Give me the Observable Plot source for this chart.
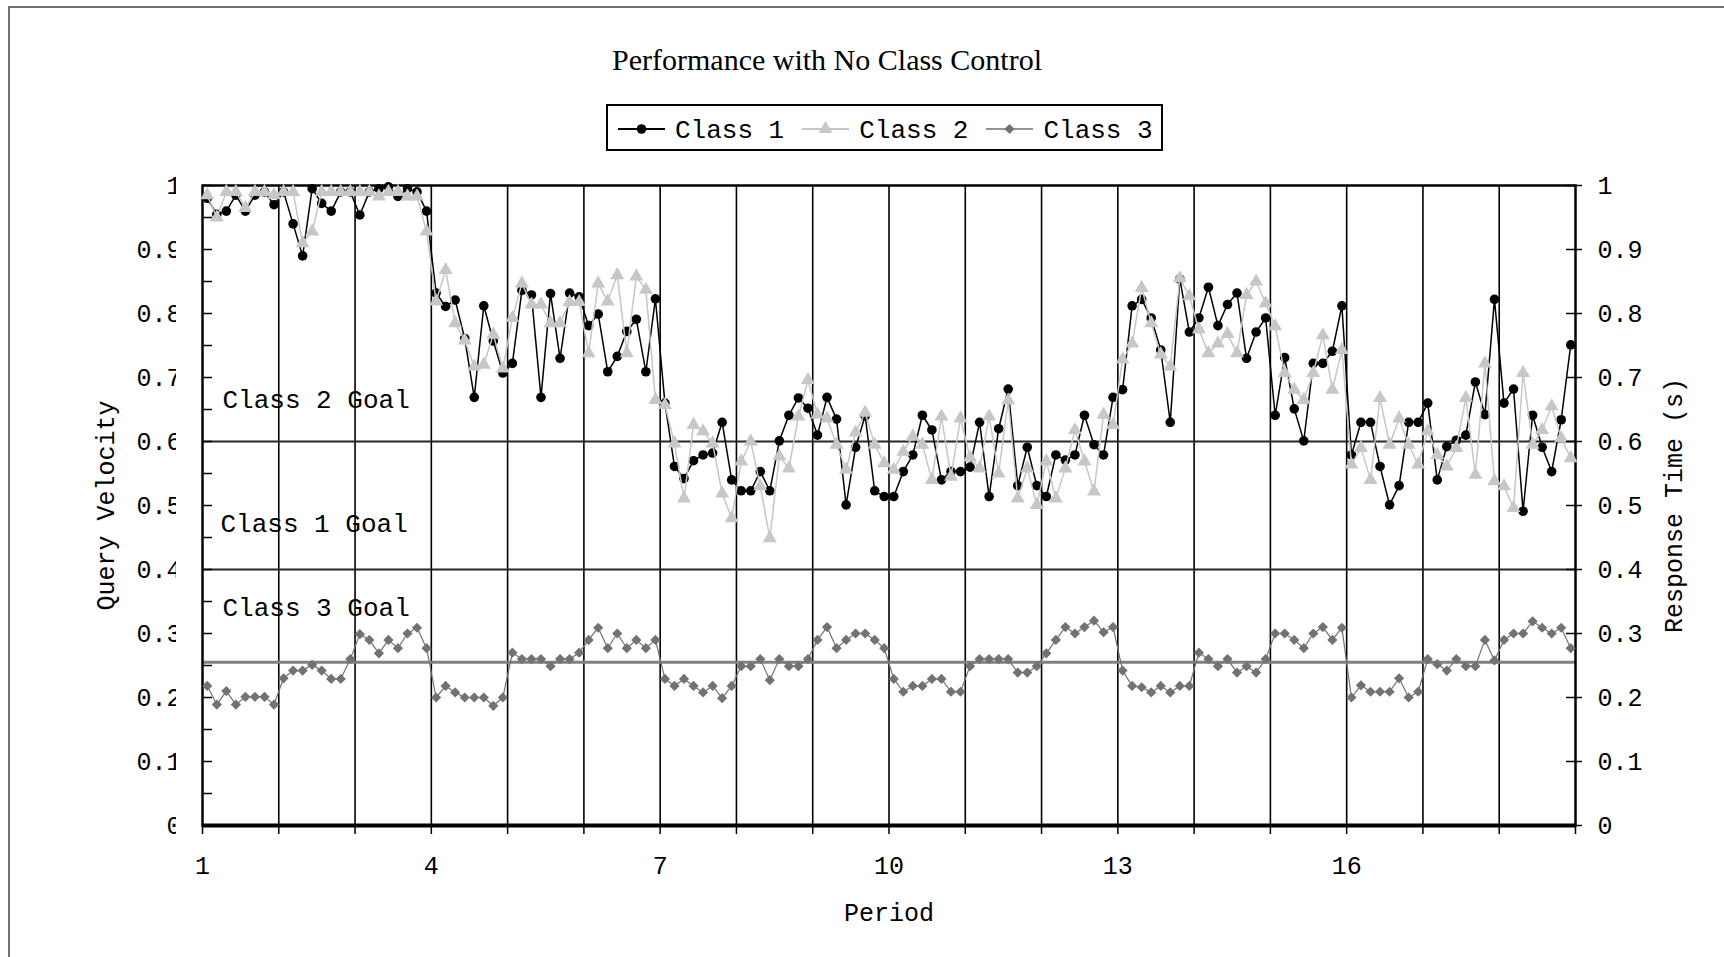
<!DOCTYPE html>
<html>
<head>
<meta charset="utf-8">
<script src="https://cdn.jsdelivr.net/npm/d3@7"></script>
<script src="https://cdn.jsdelivr.net/npm/@observablehq/plot@0.6"></script>
<style>
  body { margin: 0; background: #fff; }
  #page { position: relative; width: 1724px; height: 957px; overflow: hidden; background: #fff; }
  #border { position: absolute; left: 8px; top: 6px; width: 1800px; height: 1000px; border: 2px solid #707070; box-sizing: border-box; }
  #title { position: absolute; left: 0; top: 45px; width: 1654px; text-align: center; font: 30px/30px "Liberation Serif", serif; color: #000; }
  #legend { position: absolute; left: 606px; top: 104px; width: 557px; height: 47px; box-sizing: border-box; border: 2px solid #000; display: flex; align-items: center; padding-left: 10px; padding-top: 6px; font: 26px/26px "Liberation Mono", monospace; color: #000; background: #fff; white-space: nowrap; }
  #legend .item { display: flex; align-items: center; margin-right: 18px; flex: 0 0 auto; white-space: nowrap; }
  #legend svg { margin-right: 10px; flex: 0 0 auto; margin-top: -3px; }
  #chart { position: absolute; left: 0; top: 171px; }
</style>
</head>
<body>
<div id="page">
  <div id="border"></div>
  <div id="title"></div>
  <div id="legend"></div>
  <div id="chart"></div>
</div>
<script>
// Query velocity per class, 8 samples per period, periods 1..18
const classNames = ["Class 1", "Class 2", "Class 3"];

const class1 = [
  0.98, 0.955, 0.96, 0.985, 0.96, 0.985, 0.99, 0.97,
  0.99, 0.94, 0.89, 0.995, 0.972, 0.96, 0.99, 0.99,
  0.954, 0.99, 0.995, 0.998, 0.983, 0.995, 0.99, 0.96,
  0.832, 0.811, 0.821, 0.761, 0.669, 0.812, 0.757, 0.707,
  0.722, 0.836, 0.829, 0.669, 0.831, 0.730, 0.832, 0.826,
  0.781, 0.799, 0.709, 0.733, 0.772, 0.791, 0.709, 0.823,
  0.66, 0.561, 0.542, 0.570, 0.579, 0.582, 0.630, 0.540,
  0.523, 0.523, 0.553, 0.523, 0.601, 0.641, 0.668, 0.652,
  0.610, 0.669, 0.635, 0.501, 0.591, 0.640, 0.523, 0.514,
  0.514, 0.553, 0.579, 0.641, 0.618, 0.540, 0.553, 0.553,
  0.560, 0.630, 0.514, 0.620, 0.682, 0.531, 0.591, 0.531,
  0.514, 0.579, 0.571, 0.579, 0.641, 0.595, 0.579, 0.669,
  0.681, 0.812, 0.822, 0.793, 0.743, 0.630, 0.854, 0.771,
  0.793, 0.841, 0.781, 0.814, 0.832, 0.730, 0.771, 0.793,
  0.641, 0.731, 0.651, 0.601, 0.722, 0.722, 0.741, 0.812,
  0.579, 0.630, 0.630, 0.561, 0.501, 0.531, 0.630, 0.630,
  0.660, 0.540, 0.592, 0.602, 0.610, 0.693, 0.642, 0.822,
  0.660, 0.682, 0.491, 0.641, 0.591, 0.553, 0.634, 0.751
];

const class2 = [
  0.985, 0.95, 0.99, 0.99, 0.965, 0.99, 0.99, 0.985,
  0.99, 0.99, 0.91, 0.928, 0.99, 0.99, 0.99, 0.99,
  0.99, 0.99, 0.983, 0.99, 0.99, 0.983, 0.983, 0.928,
  0.819, 0.868, 0.785, 0.758, 0.717, 0.720, 0.767, 0.714,
  0.793, 0.847, 0.814, 0.814, 0.785, 0.785, 0.818, 0.818,
  0.738, 0.847, 0.819, 0.860, 0.738, 0.858, 0.837, 0.665,
  0.657, 0.597, 0.511, 0.626, 0.616, 0.597, 0.519, 0.480,
  0.569, 0.600, 0.530, 0.449, 0.577, 0.558, 0.639, 0.696,
  0.642, 0.636, 0.595, 0.556, 0.614, 0.645, 0.595, 0.566,
  0.556, 0.584, 0.608, 0.595, 0.540, 0.639, 0.545, 0.636,
  0.575, 0.558, 0.639, 0.550, 0.664, 0.511, 0.558, 0.501,
  0.569, 0.511, 0.558, 0.618, 0.569, 0.522, 0.642, 0.626,
  0.728, 0.753, 0.840, 0.785, 0.736, 0.717, 0.855, 0.827,
  0.775, 0.738, 0.753, 0.768, 0.738, 0.829, 0.850, 0.816,
  0.780, 0.707, 0.681, 0.665, 0.707, 0.766, 0.681, 0.743,
  0.564, 0.590, 0.540, 0.668, 0.595, 0.636, 0.595, 0.564,
  0.616, 0.579, 0.561, 0.590, 0.668, 0.548, 0.722, 0.538,
  0.530, 0.496, 0.707, 0.595, 0.618, 0.655, 0.605, 0.574
];

const class3 = [
  0.218, 0.189, 0.210, 0.189, 0.201, 0.201, 0.201, 0.189,
  0.230, 0.242, 0.242, 0.251, 0.242, 0.229, 0.229, 0.260,
  0.299, 0.290, 0.269, 0.290, 0.277, 0.300, 0.309, 0.277,
  0.200, 0.218, 0.208, 0.200, 0.200, 0.200, 0.187, 0.200,
  0.270, 0.260, 0.260, 0.260, 0.249, 0.260, 0.260, 0.270,
  0.290, 0.309, 0.277, 0.300, 0.277, 0.290, 0.277, 0.290,
  0.229, 0.218, 0.229, 0.218, 0.208, 0.218, 0.199, 0.218,
  0.249, 0.249, 0.260, 0.227, 0.260, 0.249, 0.249, 0.260,
  0.290, 0.310, 0.277, 0.290, 0.300, 0.300, 0.290, 0.277,
  0.229, 0.209, 0.218, 0.218, 0.229, 0.229, 0.209, 0.209,
  0.249, 0.260, 0.260, 0.260, 0.260, 0.239, 0.239, 0.249,
  0.269, 0.290, 0.310, 0.300, 0.310, 0.320, 0.302, 0.310,
  0.242, 0.218, 0.216, 0.208, 0.218, 0.208, 0.218, 0.218,
  0.270, 0.260, 0.249, 0.260, 0.239, 0.249, 0.239, 0.260,
  0.300, 0.300, 0.290, 0.277, 0.300, 0.310, 0.290, 0.309,
  0.200, 0.219, 0.209, 0.209, 0.209, 0.230, 0.200, 0.209,
  0.260, 0.252, 0.242, 0.260, 0.249, 0.249, 0.290, 0.258,
  0.290, 0.300, 0.300, 0.319, 0.309, 0.300, 0.309, 0.277
];

// Response-time goals for each class
const goalNames = ["Class 2 Goal", "Class 1 Goal", "Class 3 Goal"];
const goalValues = [0.6, 0.4, 0.255];

// Axis ticks
const periodLabels = [1, 4, 7, 10, 13, 16];
const periodDomain = [1, 19];
const samplesPerPeriod = 8;
const valueTicks = d3.range(0, 11).map(i => i / 10);
const minorValueTicks = d3.range(0, 21).map(i => i / 20);

// Series appearance
const seriesStyle = {
  "Class 1": {color: "#000000", symbol: "circle", r: 4.8, width: 1.5},
  "Class 2": {color: "#c9c5ca", symbol: "triangle", r: 5.2, width: 1.5},
  "Class 3": {color: "#727272", symbol: "diamond2", r: 4.6, width: 1.2}
};

const seriesValues = [class1, class2, class3];
const rows = classNames.map((name, s) =>
  seriesValues[s].map((v, k) => ({series: name, t: periodDomain[0] + (k + 0.5) / samplesPerPeriod, v}))
);
const goals = goalNames.map((name, i) => ({name, value: goalValues[i]}));
const fmt = d => d3.format(".1~f")(d);

document.getElementById("title").textContent = "Performance with No Class Control";

// Legend: line swatch with marker, then the class name
const legend = d3.select("#legend");
classNames.forEach(name => {
  const st = seriesStyle[name];
  const item = legend.append("div").attr("class", "item");
  const sw = item.append("svg").attr("width", 47).attr("height", 22);
  sw.append("line").attr("x1", 0).attr("x2", 47).attr("y1", 11).attr("y2", 11)
    .attr("stroke", st.color).attr("stroke-width", st.width + 0.5);
  const symbolType = {circle: d3.symbolCircle, triangle: d3.symbolTriangle, diamond2: d3.symbolDiamond2}[st.symbol];
  sw.append("path").attr("transform", "translate(23.5,11)")
    .attr("d", d3.symbol(symbolType, Math.PI * st.r * st.r)())
    .attr("fill", st.color);
  item.append("span").text(name);
});

const seriesMarks = classNames.flatMap((name, s) => {
  const st = seriesStyle[name];
  return [
    Plot.line(rows[s], {x: "t", y: "v", stroke: st.color, strokeWidth: st.width}),
    Plot.dot(rows[s], {x: "t", y: "v", symbol: st.symbol, r: st.r, fill: st.color, stroke: "none"})
  ];
});

const chart = Plot.plot({
  width: 1724,
  height: 786,
  marginTop: 14,
  marginBottom: 132,
  marginLeft: 202,
  marginRight: 149,
  style: {fontFamily: '"Liberation Mono", monospace', fontSize: "25px", color: "#000", background: "transparent", overflow: "visible"},
  x: {domain: periodDomain},
  y: {domain: [0, 1]},
  marks: [
    Plot.gridX(d3.range(periodDomain[0] + 1, periodDomain[1]), {stroke: "#000", strokeOpacity: 1, strokeWidth: 1.6}),
    Plot.ruleY(goals.filter(g => g.name !== "Class 3 Goal"), {y: "value", stroke: "#262626", strokeWidth: 2}),
    Plot.ruleY(goals.filter(g => g.name === "Class 3 Goal"), {y: "value", stroke: "#808080", strokeWidth: 3}),
    Plot.frame({stroke: "#000", strokeWidth: 2.5}),
    Plot.ruleY([0], {stroke: "#000", strokeWidth: 4}),
    ...seriesMarks,
    // bottom axis: a tick at every period, labels every third period
    Plot.axisX({ticks: d3.range(periodDomain[0], periodDomain[1] + 1), tickSize: 9, strokeWidth: 1.5, tickFormat: () => "", label: null}),
    Plot.axisX({ticks: periodLabels, tickSize: 0, tickPadding: 31, tickFormat: d => String(d),
      label: "Period", labelAnchor: "center", labelArrow: "none", labelOffset: 95}),
    // left axis
    Plot.axisY({anchor: "left", ticks: minorValueTicks, tickSize: -10, strokeWidth: 1.5, tickFormat: () => "", label: null}),
    Plot.axisY({anchor: "left", ticks: valueTicks, tickSize: 0, tickPadding: 21, tickFormat: fmt,
      label: "Query Velocity", labelAnchor: "center", labelArrow: "none", labelOffset: 106}),
    // right axis
    Plot.axisY({anchor: "right", ticks: valueTicks, tickSize: -10, strokeWidth: 1.5, tickFormat: () => "", label: null}),
    Plot.axisY({anchor: "right", ticks: valueTicks, tickSize: 6, strokeWidth: 1.5, tickPadding: 16, tickFormat: fmt,
      label: "Response Time (s)", labelAnchor: "center", labelArrow: "none", labelOffset: 106}),
    // goal annotations
    Plot.text(goals.filter(g => g.name === "Class 2 Goal"), {y: "value", text: "name", frameAnchor: "left", dx: 20, dy: -42, textAnchor: "start", fontSize: 26}),
    Plot.text(goals.filter(g => g.name === "Class 1 Goal"), {y: "value", text: "name", frameAnchor: "left", dx: 18, dy: -46, textAnchor: "start", fontSize: 26}),
    Plot.text(goals.filter(g => g.name === "Class 3 Goal"), {y: "value", text: "name", frameAnchor: "left", dx: 20, dy: -55, textAnchor: "start", fontSize: 26})
  ]
});

document.getElementById("chart").appendChild(chart);

// The left value labels are cut off just short of the axis line
const svg = d3.select(chart);
svg.insert("defs", ":first-child").append("clipPath").attr("id", "left-label-clip")
  .append("rect").attr("x", 0).attr("y", 0).attr("width", 176).attr("height", 786);
svg.selectAll('g[aria-label="y-axis tick label"]').each(function() {
  const box = this.getBBox();
  if (box.width > 0 && box.x < 400) {
    const wrap = document.createElementNS("http://www.w3.org/2000/svg", "g");
    wrap.setAttribute("clip-path", "url(#left-label-clip)");
    this.parentNode.insertBefore(wrap, this);
    wrap.appendChild(this);
  }
});
</script>
</body>
</html>
